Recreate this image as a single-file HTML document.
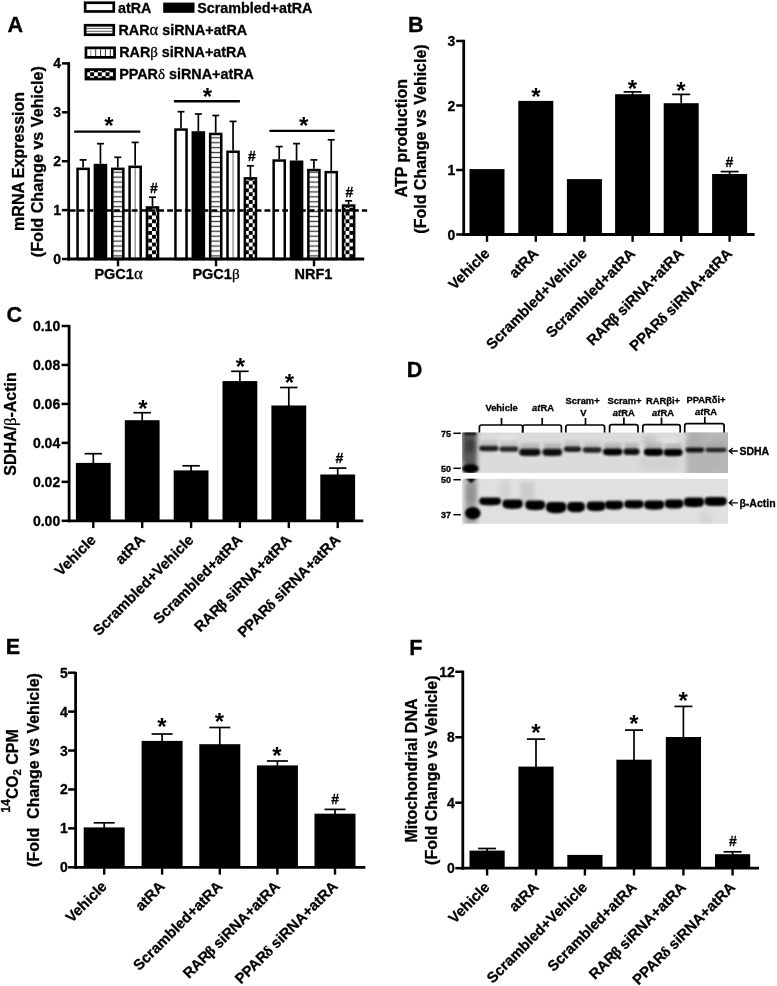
<!DOCTYPE html>
<html lang="en"><head><meta charset="utf-8"><title>Figure</title>
<style>html,body{margin:0;padding:0;background:#fff;}svg{display:block;}</style></head><body>
<svg width="777" height="986" viewBox="0 0 777 986" font-family='"Liberation Sans", sans-serif' fill="#000">
<rect width="777" height="986" fill="#fff"/>
<defs>
<pattern id="hs" y="2.5" width="4.92" height="4.92" patternUnits="userSpaceOnUse"><rect width="4.9" height="4.9" fill="#fff"/><rect y="1.8" width="4.9" height="1.3" fill="#3a3a3a"/></pattern>
<pattern id="vs" width="4.9" height="4.9" patternUnits="userSpaceOnUse" x="0"><rect width="4.9" height="4.9" fill="#fff"/><rect x="1.9" width="1.1" height="4.9" fill="#777"/></pattern>
<pattern id="ck" x="94" y="72.3" width="7.74" height="7.74" patternUnits="userSpaceOnUse"><rect width="7.74" height="7.74" fill="#000"/><rect width="3.87" height="3.87" fill="#fff"/><rect x="3.87" y="3.87" width="3.87" height="3.87" fill="#fff"/></pattern>
<filter id="b1" x="-20%" y="-60%" width="140%" height="220%"><feGaussianBlur stdDeviation="1.1"/></filter>
<filter id="b2" x="-30%" y="-30%" width="160%" height="160%"><feGaussianBlur stdDeviation="2.2"/></filter>
<filter id="b4" x="-30%" y="-60%" width="160%" height="220%"><feGaussianBlur stdDeviation="1.6"/></filter>
<filter id="b3" x="-30%" y="-30%" width="160%" height="160%"><feGaussianBlur stdDeviation="5"/></filter>
</defs>
<g id="panelA">
<line x1="83.1" y1="159.9" x2="83.1" y2="167.6" stroke="#000" stroke-width="1.7" />
<line x1="79.6" y1="159.9" x2="86.6" y2="159.9" stroke="#000" stroke-width="1.7" />
<rect x="77.55" y="168.85" width="11.1" height="90.15" fill="#fff" stroke="#000" stroke-width="2.5"/>
<line x1="100.45" y1="143.7" x2="100.45" y2="163.8" stroke="#000" stroke-width="1.7" />
<line x1="96.95" y1="143.7" x2="103.95" y2="143.7" stroke="#000" stroke-width="1.7" />
<rect x="94.9" y="165.05" width="11.1" height="93.95" fill="#000" stroke="#000" stroke-width="2.5"/>
<line x1="117.8" y1="157.3" x2="117.8" y2="167.6" stroke="#000" stroke-width="1.7" />
<line x1="114.3" y1="157.3" x2="121.3" y2="157.3" stroke="#000" stroke-width="1.7" />
<rect x="112.25" y="168.85" width="11.1" height="90.15" fill="url(#hs)" stroke="#000" stroke-width="2.5"/>
<line x1="135.15" y1="142.4" x2="135.15" y2="165.6" stroke="#000" stroke-width="1.7" />
<line x1="131.65" y1="142.4" x2="138.65" y2="142.4" stroke="#000" stroke-width="1.7" />
<rect x="129.6" y="166.85" width="11.1" height="92.15" fill="#fff" stroke="#000" stroke-width="2.5"/>
<rect x="134.6" y="168.1" width="1.1" height="90.9" fill="#777"/>
<line x1="152.5" y1="197.2" x2="152.5" y2="206.2" stroke="#000" stroke-width="1.7" />
<line x1="149" y1="197.2" x2="156" y2="197.2" stroke="#000" stroke-width="1.7" />
<rect x="146.95" y="207.45" width="11.1" height="51.55" fill="url(#ck)" stroke="#000" stroke-width="2.5"/>
<line x1="181" y1="111.7" x2="181" y2="128.3" stroke="#000" stroke-width="1.7" />
<line x1="177.5" y1="111.7" x2="184.5" y2="111.7" stroke="#000" stroke-width="1.7" />
<rect x="175.45" y="129.55" width="11.1" height="129.45" fill="#fff" stroke="#000" stroke-width="2.5"/>
<line x1="198.35" y1="114" x2="198.35" y2="131.2" stroke="#000" stroke-width="1.7" />
<line x1="194.85" y1="114" x2="201.85" y2="114" stroke="#000" stroke-width="1.7" />
<rect x="192.8" y="132.45" width="11.1" height="126.55" fill="#000" stroke="#000" stroke-width="2.5"/>
<line x1="215.7" y1="115.5" x2="215.7" y2="132.7" stroke="#000" stroke-width="1.7" />
<line x1="212.2" y1="115.5" x2="219.2" y2="115.5" stroke="#000" stroke-width="1.7" />
<rect x="210.15" y="133.95" width="11.1" height="125.05" fill="url(#hs)" stroke="#000" stroke-width="2.5"/>
<line x1="233.05" y1="121.4" x2="233.05" y2="150.5" stroke="#000" stroke-width="1.7" />
<line x1="229.55" y1="121.4" x2="236.55" y2="121.4" stroke="#000" stroke-width="1.7" />
<rect x="227.5" y="151.75" width="11.1" height="107.25" fill="#fff" stroke="#000" stroke-width="2.5"/>
<rect x="232.5" y="153" width="1.1" height="106" fill="#777"/>
<line x1="250.4" y1="165.8" x2="250.4" y2="177.1" stroke="#000" stroke-width="1.7" />
<line x1="246.9" y1="165.8" x2="253.9" y2="165.8" stroke="#000" stroke-width="1.7" />
<rect x="244.85" y="178.35" width="11.1" height="80.65" fill="url(#ck)" stroke="#000" stroke-width="2.5"/>
<line x1="279.2" y1="146.6" x2="279.2" y2="159.3" stroke="#000" stroke-width="1.7" />
<line x1="275.7" y1="146.6" x2="282.7" y2="146.6" stroke="#000" stroke-width="1.7" />
<rect x="273.65" y="160.55" width="11.1" height="98.45" fill="#fff" stroke="#000" stroke-width="2.5"/>
<line x1="296.55" y1="143.6" x2="296.55" y2="160.5" stroke="#000" stroke-width="1.7" />
<line x1="293.05" y1="143.6" x2="300.05" y2="143.6" stroke="#000" stroke-width="1.7" />
<rect x="291" y="161.75" width="11.1" height="97.25" fill="#000" stroke="#000" stroke-width="2.5"/>
<line x1="313.9" y1="159.9" x2="313.9" y2="168.8" stroke="#000" stroke-width="1.7" />
<line x1="310.4" y1="159.9" x2="317.4" y2="159.9" stroke="#000" stroke-width="1.7" />
<rect x="308.35" y="170.05" width="11.1" height="88.95" fill="url(#hs)" stroke="#000" stroke-width="2.5"/>
<line x1="331.25" y1="139.8" x2="331.25" y2="170.9" stroke="#000" stroke-width="1.7" />
<line x1="327.75" y1="139.8" x2="334.75" y2="139.8" stroke="#000" stroke-width="1.7" />
<rect x="325.7" y="172.15" width="11.1" height="86.85" fill="#fff" stroke="#000" stroke-width="2.5"/>
<rect x="330.7" y="173.4" width="1.1" height="85.6" fill="#777"/>
<line x1="348.6" y1="200.8" x2="348.6" y2="204.3" stroke="#000" stroke-width="1.7" />
<line x1="345.1" y1="200.8" x2="352.1" y2="200.8" stroke="#000" stroke-width="1.7" />
<rect x="343.05" y="205.55" width="11.1" height="53.45" fill="url(#ck)" stroke="#000" stroke-width="2.5"/>
<line x1="69.8" y1="210.5" x2="367.2" y2="210.5" stroke="#000" stroke-width="2.5" stroke-dasharray="5.8 3.05"/>
<line x1="68.7" y1="62.15" x2="68.7" y2="260.4" stroke="#000" stroke-width="2.8" />
<line x1="61.9" y1="259" x2="68.7" y2="259" stroke="#000" stroke-width="2.5" />
<text x="61" y="264" font-size="14" font-weight="bold" text-anchor="end" stroke="#000" stroke-width="0.3" >0</text>
<line x1="61.9" y1="210.1" x2="68.7" y2="210.1" stroke="#000" stroke-width="2.5" />
<text x="61" y="215.1" font-size="14" font-weight="bold" text-anchor="end" stroke="#000" stroke-width="0.3" >1</text>
<line x1="61.9" y1="161.2" x2="68.7" y2="161.2" stroke="#000" stroke-width="2.5" />
<text x="61" y="166.2" font-size="14" font-weight="bold" text-anchor="end" stroke="#000" stroke-width="0.3" >2</text>
<line x1="61.9" y1="112.3" x2="68.7" y2="112.3" stroke="#000" stroke-width="2.5" />
<text x="61" y="117.3" font-size="14" font-weight="bold" text-anchor="end" stroke="#000" stroke-width="0.3" >3</text>
<line x1="61.9" y1="63.4" x2="68.7" y2="63.4" stroke="#000" stroke-width="2.5" />
<text x="61" y="68.4" font-size="14" font-weight="bold" text-anchor="end" stroke="#000" stroke-width="0.3" >4</text>
<line x1="67.45" y1="259" x2="364.2" y2="259" stroke="#000" stroke-width="2.8" />
<line x1="118" y1="259" x2="118" y2="266.3" stroke="#000" stroke-width="2.4" />
<line x1="216" y1="259" x2="216" y2="266.3" stroke="#000" stroke-width="2.4" />
<line x1="314" y1="259" x2="314" y2="266.3" stroke="#000" stroke-width="2.4" />
<text x="118.5" y="278.6" font-size="14.5" font-weight="bold" text-anchor="middle" stroke="#000" stroke-width="0.3" >PGC1<tspan font-family='"Liberation Serif", "DejaVu Serif", serif' font-weight="normal" font-size="1.15em">α</tspan></text>
<text x="216" y="278.6" font-size="14.5" font-weight="bold" text-anchor="middle" stroke="#000" stroke-width="0.3" >PGC1<tspan font-family='"Liberation Serif", "DejaVu Serif", serif' font-weight="normal" font-size="1.04em">β</tspan></text>
<text x="313.4" y="278.6" font-size="14.5" font-weight="bold" text-anchor="middle" stroke="#000" stroke-width="0.3" >NRF1</text>
<line x1="74.2" y1="131.6" x2="140.3" y2="131.6" stroke="#000" stroke-width="2.4" />
<line x1="173.9" y1="101.3" x2="239.9" y2="101.3" stroke="#000" stroke-width="2.4" />
<line x1="269.5" y1="130.9" x2="334.7" y2="130.9" stroke="#000" stroke-width="2.4" />
<text x="108.9" y="133.6" font-size="24" font-weight="bold" text-anchor="middle">*</text>
<text x="207.4" y="104.8" font-size="24" font-weight="bold" text-anchor="middle">*</text>
<text x="303.6" y="133.8" font-size="24" font-weight="bold" text-anchor="middle">*</text>
<text x="154" y="192.5" font-size="14" font-weight="bold" text-anchor="middle" stroke="#000" stroke-width="0.3" >#</text>
<text x="251.8" y="161" font-size="14" font-weight="bold" text-anchor="middle" stroke="#000" stroke-width="0.3" >#</text>
<text x="349.5" y="197.3" font-size="14" font-weight="bold" text-anchor="middle" stroke="#000" stroke-width="0.3" >#</text>
<text transform="translate(23.6 161.4) rotate(-90)" font-size="16" font-weight="bold" text-anchor="middle" stroke="#000" stroke-width="0.3" >mRNA Expression</text>
<text transform="translate(42.9 161.7) rotate(-90)" font-size="16.15" font-weight="bold" text-anchor="middle" stroke="#000" stroke-width="0.3" >(Fold Change vs Vehicle)</text>
<rect x="85.15" y="2.75" width="28.6" height="8.7" fill="#fff" stroke="#000" stroke-width="2.7"/>
<text x="118" y="12.7" font-size="14.35" font-weight="bold" text-anchor="start" stroke="#000" stroke-width="0.3" >atRA</text>
<rect x="163.2" y="2.6" width="31.3" height="10.2" fill="#000"/>
<text x="197.2" y="12.7" font-size="14.35" font-weight="bold" text-anchor="start" stroke="#000" stroke-width="0.3" >Scrambled+atRA</text>
<rect x="85.15" y="25.25" width="28.6" height="9.5" fill="#fff" stroke="#000" stroke-width="2.7"/>
<rect x="86" y="27.9" width="27" height="0.9" fill="#444"/><rect x="86" y="30.8" width="27" height="0.9" fill="#444"/>
<text x="118.5" y="34.7" font-size="14.35" font-weight="bold" text-anchor="start" stroke="#000" stroke-width="0.3" >RAR<tspan font-family='"Liberation Serif", "DejaVu Serif", serif' font-weight="normal" font-size="1.15em">α</tspan> siRNA+atRA</text>
<rect x="85.95" y="47.85" width="28.6" height="9.5" fill="#fff" stroke="#000" stroke-width="2.7"/>
<rect x="90.2" y="49" width="1.1" height="7" fill="#999"/>
<rect x="95.1" y="49" width="1.1" height="7" fill="#444"/>
<rect x="100" y="49" width="1.1" height="7" fill="#444"/>
<rect x="104.9" y="49" width="1.1" height="7" fill="#444"/>
<rect x="109.8" y="49" width="1.1" height="7" fill="#444"/>
<text x="119.2" y="57.2" font-size="14.35" font-weight="bold" text-anchor="start" stroke="#000" stroke-width="0.3" >RAR<tspan font-family='"Liberation Serif", "DejaVu Serif", serif' font-weight="normal" font-size="1.04em">β</tspan> siRNA+atRA</text>
<rect x="85.95" y="69.55" width="28.6" height="9.5" fill="url(#ck)" stroke="#000" stroke-width="2.7"/>
<text x="119.2" y="78.5" font-size="14.35" font-weight="bold" text-anchor="start" stroke="#000" stroke-width="0.3" >PPAR<tspan font-family='"Liberation Serif", "DejaVu Serif", serif' font-weight="normal" font-size="1.04em">δ</tspan> siRNA+atRA</text>
<text x="7.5" y="32.2" font-size="21.6" font-weight="bold" text-anchor="start" stroke="#000" stroke-width="0.3" >A</text>
</g>
<g id="panelB">
<rect x="469.5" y="169.1" width="35" height="65.4" fill="#000"/>
<rect x="518.3" y="100.9" width="35" height="133.6" fill="#000"/>
<rect x="566.9" y="179.1" width="35" height="55.4" fill="#000"/>
<line x1="632.6" y1="91.9" x2="632.6" y2="95.2" stroke="#000" stroke-width="1.7" />
<line x1="623.6" y1="91.9" x2="641.6" y2="91.9" stroke="#000" stroke-width="1.7" />
<rect x="615.1" y="94.2" width="35" height="140.3" fill="#000"/>
<line x1="681.2" y1="94.4" x2="681.2" y2="104.2" stroke="#000" stroke-width="1.7" />
<line x1="672.2" y1="94.4" x2="690.2" y2="94.4" stroke="#000" stroke-width="1.7" />
<rect x="663.7" y="103.2" width="35" height="131.3" fill="#000"/>
<line x1="729.6" y1="171.6" x2="729.6" y2="175" stroke="#000" stroke-width="1.7" />
<line x1="720.6" y1="171.6" x2="738.6" y2="171.6" stroke="#000" stroke-width="1.7" />
<rect x="712.1" y="174" width="35" height="60.5" fill="#000"/>
<line x1="463.7" y1="39.75" x2="463.7" y2="235.9" stroke="#000" stroke-width="2.8" />
<line x1="456.2" y1="234.5" x2="463.7" y2="234.5" stroke="#000" stroke-width="2.5" />
<text x="455.2" y="239.5" font-size="14" font-weight="bold" text-anchor="end" stroke="#000" stroke-width="0.3" >0</text>
<line x1="456.2" y1="170" x2="463.7" y2="170" stroke="#000" stroke-width="2.5" />
<text x="455.2" y="175" font-size="14" font-weight="bold" text-anchor="end" stroke="#000" stroke-width="0.3" >1</text>
<line x1="456.2" y1="105.5" x2="463.7" y2="105.5" stroke="#000" stroke-width="2.5" />
<text x="455.2" y="110.5" font-size="14" font-weight="bold" text-anchor="end" stroke="#000" stroke-width="0.3" >2</text>
<line x1="456.2" y1="41" x2="463.7" y2="41" stroke="#000" stroke-width="2.5" />
<text x="455.2" y="46" font-size="14" font-weight="bold" text-anchor="end" stroke="#000" stroke-width="0.3" >3</text>
<line x1="462.45" y1="234.5" x2="754.6" y2="234.5" stroke="#000" stroke-width="2.8" />
<line x1="487" y1="234.5" x2="487" y2="241.8" stroke="#000" stroke-width="2.4" />
<line x1="535.8" y1="234.5" x2="535.8" y2="241.8" stroke="#000" stroke-width="2.4" />
<line x1="584.4" y1="234.5" x2="584.4" y2="241.8" stroke="#000" stroke-width="2.4" />
<line x1="632.6" y1="234.5" x2="632.6" y2="241.8" stroke="#000" stroke-width="2.4" />
<line x1="681.2" y1="234.5" x2="681.2" y2="241.8" stroke="#000" stroke-width="2.4" />
<line x1="729.6" y1="234.5" x2="729.6" y2="241.8" stroke="#000" stroke-width="2.4" />
<text transform="translate(490.5 254.5) rotate(-45)" font-size="14.8" font-weight="bold" text-anchor="end" stroke="#000" stroke-width="0.3" >Vehicle</text>
<text transform="translate(539.3 254.5) rotate(-45)" font-size="14.8" font-weight="bold" text-anchor="end" stroke="#000" stroke-width="0.3" >atRA</text>
<text transform="translate(587.9 254.5) rotate(-45)" font-size="14.8" font-weight="bold" text-anchor="end" stroke="#000" stroke-width="0.3" >Scrambled+Vehicle</text>
<text transform="translate(636.1 254.5) rotate(-45)" font-size="14.8" font-weight="bold" text-anchor="end" stroke="#000" stroke-width="0.3" >Scrambled+atRA</text>
<text transform="translate(684.7 254.5) rotate(-45)" font-size="14.8" font-weight="bold" text-anchor="end" stroke="#000" stroke-width="0.3" >RAR<tspan font-family='"Liberation Serif", "DejaVu Serif", serif' font-weight="bold" dx="-0.8">β</tspan><tspan dx="-0.6"> siRNA+atRA</tspan></text>
<text transform="translate(733.1 254.5) rotate(-45)" font-size="14.8" font-weight="bold" text-anchor="end" stroke="#000" stroke-width="0.3" >PPAR<tspan font-family='"Liberation Serif", "DejaVu Serif", serif' font-weight="bold" dx="-0.8">δ</tspan><tspan dx="-0.6"> siRNA+atRA</tspan></text>
<text x="535.9" y="105.1" font-size="24" font-weight="bold" text-anchor="middle">*</text>
<text x="632.4" y="96.7" font-size="24" font-weight="bold" text-anchor="middle">*</text>
<text x="681" y="98.5" font-size="24" font-weight="bold" text-anchor="middle">*</text>
<text x="729.4" y="167.2" font-size="14" font-weight="bold" text-anchor="middle" stroke="#000" stroke-width="0.3" >#</text>
<text transform="translate(406.9 138.2) rotate(-90)" font-size="16" font-weight="bold" text-anchor="middle" stroke="#000" stroke-width="0.3" >ATP production</text>
<text transform="translate(426 139) rotate(-90)" font-size="16" font-weight="bold" text-anchor="middle" stroke="#000" stroke-width="0.3" >(Fold Change vs Vehicle)</text>
<text x="408" y="32" font-size="21.6" font-weight="bold" text-anchor="start" stroke="#000" stroke-width="0.3" >B</text>
</g>
<g id="panelC">
<line x1="93.3" y1="453.7" x2="93.3" y2="463.9" stroke="#000" stroke-width="1.7" />
<line x1="84.55" y1="453.7" x2="102.05" y2="453.7" stroke="#000" stroke-width="1.7" />
<rect x="75.9" y="462.9" width="34.8" height="57.9" fill="#000"/>
<line x1="142.2" y1="412.7" x2="142.2" y2="421.2" stroke="#000" stroke-width="1.7" />
<line x1="133.45" y1="412.7" x2="150.95" y2="412.7" stroke="#000" stroke-width="1.7" />
<rect x="124.8" y="420.2" width="34.8" height="100.6" fill="#000"/>
<line x1="191.1" y1="465.8" x2="191.1" y2="471.4" stroke="#000" stroke-width="1.7" />
<line x1="182.35" y1="465.8" x2="199.85" y2="465.8" stroke="#000" stroke-width="1.7" />
<rect x="173.7" y="470.4" width="34.8" height="50.4" fill="#000"/>
<line x1="239.9" y1="371.3" x2="239.9" y2="382.1" stroke="#000" stroke-width="1.7" />
<line x1="231.15" y1="371.3" x2="248.65" y2="371.3" stroke="#000" stroke-width="1.7" />
<rect x="222.5" y="381.1" width="34.8" height="139.7" fill="#000"/>
<line x1="288.8" y1="387.5" x2="288.8" y2="406.5" stroke="#000" stroke-width="1.7" />
<line x1="280.05" y1="387.5" x2="297.55" y2="387.5" stroke="#000" stroke-width="1.7" />
<rect x="271.4" y="405.5" width="34.8" height="115.3" fill="#000"/>
<line x1="337.7" y1="468.1" x2="337.7" y2="475.5" stroke="#000" stroke-width="1.7" />
<line x1="328.95" y1="468.1" x2="346.45" y2="468.1" stroke="#000" stroke-width="1.7" />
<rect x="320.3" y="474.5" width="34.8" height="46.3" fill="#000"/>
<line x1="69.1" y1="324.85" x2="69.1" y2="522.2" stroke="#000" stroke-width="2.8" />
<line x1="61.6" y1="520.8" x2="69.1" y2="520.8" stroke="#000" stroke-width="2.5" />
<text x="60.2" y="525.8" font-size="14" font-weight="bold" text-anchor="end" stroke="#000" stroke-width="0.3" >0.00</text>
<line x1="61.6" y1="481.84" x2="69.1" y2="481.84" stroke="#000" stroke-width="2.5" />
<text x="60.2" y="486.84" font-size="14" font-weight="bold" text-anchor="end" stroke="#000" stroke-width="0.3" >0.02</text>
<line x1="61.6" y1="442.88" x2="69.1" y2="442.88" stroke="#000" stroke-width="2.5" />
<text x="60.2" y="447.88" font-size="14" font-weight="bold" text-anchor="end" stroke="#000" stroke-width="0.3" >0.04</text>
<line x1="61.6" y1="403.92" x2="69.1" y2="403.92" stroke="#000" stroke-width="2.5" />
<text x="60.2" y="408.92" font-size="14" font-weight="bold" text-anchor="end" stroke="#000" stroke-width="0.3" >0.06</text>
<line x1="61.6" y1="364.96" x2="69.1" y2="364.96" stroke="#000" stroke-width="2.5" />
<text x="60.2" y="369.96" font-size="14" font-weight="bold" text-anchor="end" stroke="#000" stroke-width="0.3" >0.08</text>
<line x1="61.6" y1="326" x2="69.1" y2="326" stroke="#000" stroke-width="2.5" />
<text x="60.2" y="331" font-size="14" font-weight="bold" text-anchor="end" stroke="#000" stroke-width="0.3" >0.10</text>
<line x1="67.85" y1="520.8" x2="363.3" y2="520.8" stroke="#000" stroke-width="2.8" />
<line x1="93.3" y1="520.8" x2="93.3" y2="528.1" stroke="#000" stroke-width="2.4" />
<line x1="142.2" y1="520.8" x2="142.2" y2="528.1" stroke="#000" stroke-width="2.4" />
<line x1="191.1" y1="520.8" x2="191.1" y2="528.1" stroke="#000" stroke-width="2.4" />
<line x1="239.9" y1="520.8" x2="239.9" y2="528.1" stroke="#000" stroke-width="2.4" />
<line x1="288.8" y1="520.8" x2="288.8" y2="528.1" stroke="#000" stroke-width="2.4" />
<line x1="337.7" y1="520.8" x2="337.7" y2="528.1" stroke="#000" stroke-width="2.4" />
<text transform="translate(96.8 540.8) rotate(-45)" font-size="14.8" font-weight="bold" text-anchor="end" stroke="#000" stroke-width="0.3" >Vehicle</text>
<text transform="translate(145.7 540.8) rotate(-45)" font-size="14.8" font-weight="bold" text-anchor="end" stroke="#000" stroke-width="0.3" >atRA</text>
<text transform="translate(194.6 540.8) rotate(-45)" font-size="14.8" font-weight="bold" text-anchor="end" stroke="#000" stroke-width="0.3" >Scrambled+Vehicle</text>
<text transform="translate(243.4 540.8) rotate(-45)" font-size="14.8" font-weight="bold" text-anchor="end" stroke="#000" stroke-width="0.3" >Scrambled+atRA</text>
<text transform="translate(292.3 540.8) rotate(-45)" font-size="14.8" font-weight="bold" text-anchor="end" stroke="#000" stroke-width="0.3" >RAR<tspan font-family='"Liberation Serif", "DejaVu Serif", serif' font-weight="bold" dx="-0.8">β</tspan><tspan dx="-0.6"> siRNA+atRA</tspan></text>
<text transform="translate(341.2 540.8) rotate(-45)" font-size="14.8" font-weight="bold" text-anchor="end" stroke="#000" stroke-width="0.3" >PPAR<tspan font-family='"Liberation Serif", "DejaVu Serif", serif' font-weight="bold" dx="-0.8">δ</tspan><tspan dx="-0.6"> siRNA+atRA</tspan></text>
<text x="143" y="417.1" font-size="24" font-weight="bold" text-anchor="middle">*</text>
<text x="240.5" y="375.1" font-size="24" font-weight="bold" text-anchor="middle">*</text>
<text x="289.3" y="390.5" font-size="24" font-weight="bold" text-anchor="middle">*</text>
<text x="339.5" y="462.8" font-size="14" font-weight="bold" text-anchor="middle" stroke="#000" stroke-width="0.3" >#</text>
<text transform="translate(16 424) rotate(-90)" font-size="16" font-weight="bold" text-anchor="middle" stroke="#000" stroke-width="0.3" >SDHA/<tspan font-family='"Liberation Serif", "DejaVu Serif", serif' font-weight="normal" font-size="1.04em">β</tspan>-Actin</text>
<text x="6.5" y="322" font-size="21.6" font-weight="bold" text-anchor="start" stroke="#000" stroke-width="0.3" >C</text>
</g>
<g id="panelE">
<line x1="104.2" y1="822.8" x2="104.2" y2="828.4" stroke="#000" stroke-width="1.7" />
<line x1="93.7" y1="822.8" x2="114.7" y2="822.8" stroke="#000" stroke-width="1.7" />
<rect x="83.7" y="827.4" width="41" height="39.9" fill="#000"/>
<line x1="162.1" y1="734" x2="162.1" y2="741.9" stroke="#000" stroke-width="1.7" />
<line x1="151.6" y1="734" x2="172.6" y2="734" stroke="#000" stroke-width="1.7" />
<rect x="141.6" y="740.9" width="41" height="126.4" fill="#000"/>
<line x1="219.8" y1="727.5" x2="219.8" y2="745.2" stroke="#000" stroke-width="1.7" />
<line x1="209.3" y1="727.5" x2="230.3" y2="727.5" stroke="#000" stroke-width="1.7" />
<rect x="199.3" y="744.2" width="41" height="123.1" fill="#000"/>
<line x1="277.4" y1="761" x2="277.4" y2="766.4" stroke="#000" stroke-width="1.7" />
<line x1="266.9" y1="761" x2="287.9" y2="761" stroke="#000" stroke-width="1.7" />
<rect x="256.9" y="765.4" width="41" height="101.9" fill="#000"/>
<line x1="335" y1="809.4" x2="335" y2="814.7" stroke="#000" stroke-width="1.7" />
<line x1="324.5" y1="809.4" x2="345.5" y2="809.4" stroke="#000" stroke-width="1.7" />
<rect x="314.5" y="813.7" width="41" height="53.6" fill="#000"/>
<line x1="75.6" y1="671.85" x2="75.6" y2="868.7" stroke="#000" stroke-width="2.8" />
<line x1="68.1" y1="867.3" x2="75.6" y2="867.3" stroke="#000" stroke-width="2.5" />
<text x="67.9" y="872.3" font-size="14" font-weight="bold" text-anchor="end" stroke="#000" stroke-width="0.3" >0</text>
<line x1="68.1" y1="828.38" x2="75.6" y2="828.38" stroke="#000" stroke-width="2.5" />
<text x="67.9" y="833.38" font-size="14" font-weight="bold" text-anchor="end" stroke="#000" stroke-width="0.3" >1</text>
<line x1="68.1" y1="789.46" x2="75.6" y2="789.46" stroke="#000" stroke-width="2.5" />
<text x="67.9" y="794.46" font-size="14" font-weight="bold" text-anchor="end" stroke="#000" stroke-width="0.3" >2</text>
<line x1="68.1" y1="750.54" x2="75.6" y2="750.54" stroke="#000" stroke-width="2.5" />
<text x="67.9" y="755.54" font-size="14" font-weight="bold" text-anchor="end" stroke="#000" stroke-width="0.3" >3</text>
<line x1="68.1" y1="711.62" x2="75.6" y2="711.62" stroke="#000" stroke-width="2.5" />
<text x="67.9" y="716.62" font-size="14" font-weight="bold" text-anchor="end" stroke="#000" stroke-width="0.3" >4</text>
<line x1="68.1" y1="672.7" x2="75.6" y2="672.7" stroke="#000" stroke-width="2.5" />
<text x="67.9" y="677.7" font-size="14" font-weight="bold" text-anchor="end" stroke="#000" stroke-width="0.3" >5</text>
<line x1="74.35" y1="867.3" x2="365.3" y2="867.3" stroke="#000" stroke-width="2.8" />
<line x1="104.2" y1="867.3" x2="104.2" y2="874.6" stroke="#000" stroke-width="2.4" />
<line x1="162.1" y1="867.3" x2="162.1" y2="874.6" stroke="#000" stroke-width="2.4" />
<line x1="219.8" y1="867.3" x2="219.8" y2="874.6" stroke="#000" stroke-width="2.4" />
<line x1="277.4" y1="867.3" x2="277.4" y2="874.6" stroke="#000" stroke-width="2.4" />
<line x1="335" y1="867.3" x2="335" y2="874.6" stroke="#000" stroke-width="2.4" />
<text transform="translate(107.7 887.3) rotate(-45)" font-size="14.8" font-weight="bold" text-anchor="end" stroke="#000" stroke-width="0.3" >Vehicle</text>
<text transform="translate(165.6 887.3) rotate(-45)" font-size="14.8" font-weight="bold" text-anchor="end" stroke="#000" stroke-width="0.3" >atRA</text>
<text transform="translate(223.3 887.3) rotate(-45)" font-size="14.8" font-weight="bold" text-anchor="end" stroke="#000" stroke-width="0.3" >Scrambled+atRA</text>
<text transform="translate(280.9 887.3) rotate(-45)" font-size="14.8" font-weight="bold" text-anchor="end" stroke="#000" stroke-width="0.3" >RAR<tspan font-family='"Liberation Serif", "DejaVu Serif", serif' font-weight="bold" dx="-0.8">β</tspan><tspan dx="-0.6"> siRNA+atRA</tspan></text>
<text transform="translate(338.5 887.3) rotate(-45)" font-size="14.8" font-weight="bold" text-anchor="end" stroke="#000" stroke-width="0.3" >PPAR<tspan font-family='"Liberation Serif", "DejaVu Serif", serif' font-weight="bold" dx="-0.8">δ</tspan><tspan dx="-0.6"> siRNA+atRA</tspan></text>
<text x="161.9" y="735.2" font-size="24" font-weight="bold" text-anchor="middle">*</text>
<text x="219.5" y="729.8" font-size="24" font-weight="bold" text-anchor="middle">*</text>
<text x="277" y="764" font-size="24" font-weight="bold" text-anchor="middle">*</text>
<text x="335.2" y="804" font-size="14" font-weight="bold" text-anchor="middle" stroke="#000" stroke-width="0.3" >#</text>
<text transform="translate(18.3 771) rotate(-90)" font-size="16" font-weight="bold" text-anchor="middle" stroke="#000" stroke-width="0.3" ><tspan font-size="12.4" dy="-8.6">14</tspan><tspan font-size="15.6" dy="8.6">CO</tspan><tspan font-size="11.5" dy="2.5">2</tspan><tspan font-size="16" dy="-2.5"> CPM</tspan></text>
<text transform="translate(38.8 770) rotate(-90)" font-size="16" font-weight="bold" text-anchor="middle" stroke="#000" stroke-width="0.3" >(Fold&#160;&#160;Change vs Vehicle)</text>
<text x="5.8" y="654.1" font-size="21.6" font-weight="bold" text-anchor="start" stroke="#000" stroke-width="0.3" >E</text>
</g>
<g id="panelF">
<line x1="487.1" y1="848.5" x2="487.1" y2="851.6" stroke="#000" stroke-width="1.7" />
<line x1="478.1" y1="848.5" x2="496.1" y2="848.5" stroke="#000" stroke-width="1.7" />
<rect x="469.5" y="850.6" width="35.2" height="17.6" fill="#000"/>
<line x1="536" y1="739.1" x2="536" y2="767.6" stroke="#000" stroke-width="1.7" />
<line x1="527" y1="739.1" x2="545" y2="739.1" stroke="#000" stroke-width="1.7" />
<rect x="518.4" y="766.6" width="35.2" height="101.6" fill="#000"/>
<rect x="567.3" y="854.9" width="35.2" height="13.3" fill="#000"/>
<line x1="634" y1="730.1" x2="634" y2="760.7" stroke="#000" stroke-width="1.7" />
<line x1="625" y1="730.1" x2="643" y2="730.1" stroke="#000" stroke-width="1.7" />
<rect x="616.4" y="759.7" width="35.2" height="108.5" fill="#000"/>
<line x1="683.4" y1="706.4" x2="683.4" y2="738" stroke="#000" stroke-width="1.7" />
<line x1="674.4" y1="706.4" x2="692.4" y2="706.4" stroke="#000" stroke-width="1.7" />
<rect x="665.8" y="737" width="35.2" height="131.2" fill="#000"/>
<line x1="732.6" y1="851.8" x2="732.6" y2="855.2" stroke="#000" stroke-width="1.7" />
<line x1="723.6" y1="851.8" x2="741.6" y2="851.8" stroke="#000" stroke-width="1.7" />
<rect x="715" y="854.2" width="35.2" height="14" fill="#000"/>
<line x1="462.8" y1="670.65" x2="462.8" y2="869.6" stroke="#000" stroke-width="2.8" />
<line x1="455.3" y1="868.2" x2="462.8" y2="868.2" stroke="#000" stroke-width="2.5" />
<text x="454.8" y="873.2" font-size="14" font-weight="bold" text-anchor="end" stroke="#000" stroke-width="0.3" >0</text>
<line x1="455.3" y1="802.72" x2="462.8" y2="802.72" stroke="#000" stroke-width="2.5" />
<text x="454.8" y="807.72" font-size="14" font-weight="bold" text-anchor="end" stroke="#000" stroke-width="0.3" >4</text>
<line x1="455.3" y1="737.24" x2="462.8" y2="737.24" stroke="#000" stroke-width="2.5" />
<text x="454.8" y="742.24" font-size="14" font-weight="bold" text-anchor="end" stroke="#000" stroke-width="0.3" >8</text>
<line x1="455.3" y1="671.76" x2="462.8" y2="671.76" stroke="#000" stroke-width="2.5" />
<text x="454.8" y="676.76" font-size="14" font-weight="bold" text-anchor="end" stroke="#000" stroke-width="0.3" >12</text>
<line x1="461.55" y1="868.2" x2="759" y2="868.2" stroke="#000" stroke-width="2.8" />
<line x1="487.1" y1="868.2" x2="487.1" y2="875.5" stroke="#000" stroke-width="2.4" />
<line x1="536" y1="868.2" x2="536" y2="875.5" stroke="#000" stroke-width="2.4" />
<line x1="584.9" y1="868.2" x2="584.9" y2="875.5" stroke="#000" stroke-width="2.4" />
<line x1="634" y1="868.2" x2="634" y2="875.5" stroke="#000" stroke-width="2.4" />
<line x1="683.4" y1="868.2" x2="683.4" y2="875.5" stroke="#000" stroke-width="2.4" />
<line x1="732.6" y1="868.2" x2="732.6" y2="875.5" stroke="#000" stroke-width="2.4" />
<text transform="translate(490.6 888.2) rotate(-45)" font-size="14.8" font-weight="bold" text-anchor="end" stroke="#000" stroke-width="0.3" >Vehicle</text>
<text transform="translate(539.5 888.2) rotate(-45)" font-size="14.8" font-weight="bold" text-anchor="end" stroke="#000" stroke-width="0.3" >atRA</text>
<text transform="translate(588.4 888.2) rotate(-45)" font-size="14.8" font-weight="bold" text-anchor="end" stroke="#000" stroke-width="0.3" >Scrambled+Vehicle</text>
<text transform="translate(637.5 888.2) rotate(-45)" font-size="14.8" font-weight="bold" text-anchor="end" stroke="#000" stroke-width="0.3" >Scrambled+atRA</text>
<text transform="translate(686.9 888.2) rotate(-45)" font-size="14.8" font-weight="bold" text-anchor="end" stroke="#000" stroke-width="0.3" >RAR<tspan font-family='"Liberation Serif", "DejaVu Serif", serif' font-weight="bold" dx="-0.8">β</tspan><tspan dx="-0.6"> siRNA+atRA</tspan></text>
<text transform="translate(736.1 888.2) rotate(-45)" font-size="14.8" font-weight="bold" text-anchor="end" stroke="#000" stroke-width="0.3" >PPAR<tspan font-family='"Liberation Serif", "DejaVu Serif", serif' font-weight="bold" dx="-0.8">δ</tspan><tspan dx="-0.6"> siRNA+atRA</tspan></text>
<text x="535.8" y="740.9" font-size="24" font-weight="bold" text-anchor="middle">*</text>
<text x="633.8" y="732.3" font-size="24" font-weight="bold" text-anchor="middle">*</text>
<text x="683.2" y="709.4" font-size="24" font-weight="bold" text-anchor="middle">*</text>
<text x="733" y="846" font-size="14" font-weight="bold" text-anchor="middle" stroke="#000" stroke-width="0.3" >#</text>
<text transform="translate(416.5 770.5) rotate(-90)" font-size="16" font-weight="bold" text-anchor="middle" stroke="#000" stroke-width="0.3" >Mitochondrial DNA</text>
<text transform="translate(437.1 770.2) rotate(-90)" font-size="16" font-weight="bold" text-anchor="middle" stroke="#000" stroke-width="0.3" >(Fold Change vs Vehicle)</text>
<text x="409.3" y="654.7" font-size="21.6" font-weight="bold" text-anchor="start" stroke="#000" stroke-width="0.3" >F</text>
</g>
<g id="panelD">
<text x="406.8" y="376.9" font-size="21.6" font-weight="bold" text-anchor="start" stroke="#000" stroke-width="0.3" >D</text>
<clipPath id="cs"><rect x="462.0" y="432.5" width="266.0" height="40.4"/></clipPath>
<clipPath id="ca"><rect x="462.0" y="478.8" width="266.0" height="44.9"/></clipPath>
<rect x="462.0" y="432.5" width="266.0" height="40.4" fill="#dbdbdb"/>
<g clip-path="url(#cs)">
<rect x="686" y="428" width="46" height="50" fill="#b7b7b7" opacity="1" filter="url(#b2)"/>
<rect x="690" y="433" width="14" height="10" fill="#aaaaaa" opacity="0.8" filter="url(#b2)"/>
<rect x="712" y="436" width="12" height="9" fill="#b0b0b0" opacity="0.8" filter="url(#b2)"/>
<rect x="692" y="458" width="30" height="10" fill="#b2b2b2" opacity="0.7" filter="url(#b2)"/>
<rect x="642" y="436" width="14" height="8" fill="#c6c6c6" opacity="1" filter="url(#b2)"/>
<rect x="664" y="438" width="12" height="8" fill="#e6e6e6" opacity="0.8" filter="url(#b2)"/>
<rect x="640" y="458" width="40" height="12" fill="#cfcfcf" opacity="0.8" filter="url(#b2)"/>
<rect x="500" y="436" width="14" height="8" fill="#e4e4e4" opacity="0.8" filter="url(#b2)"/>
<rect x="463.5" y="428" width="13.5" height="42" fill="#585858" opacity="1" filter="url(#b2)"/>
<rect x="466" y="440" width="8" height="12" fill="#333" opacity="0.7" filter="url(#b2)"/>
<rect x="464" y="431.5" width="12" height="3.5" fill="#111" opacity="0.9" filter="url(#b1)"/>
<rect x="462" y="432" width="4" height="30" fill="#333" opacity="0.6" filter="url(#b2)"/>
<ellipse cx="470.4" cy="468.8" rx="8.3" ry="4.6" fill="#000" filter="url(#b1)"/>
<rect x="480" y="440.3" width="17.6" height="6.5" fill="#9a9a9a" opacity="0.35" filter="url(#b4)"/>
<rect x="500.4" y="440.9" width="17" height="6.5" fill="#9a9a9a" opacity="0.35" filter="url(#b4)"/>
<rect x="520.2" y="443.3" width="19.4" height="6.5" fill="#9a9a9a" opacity="0.55" filter="url(#b4)"/>
<rect x="543.4" y="443.3" width="17.8" height="6.5" fill="#9a9a9a" opacity="0.55" filter="url(#b4)"/>
<rect x="564.8" y="440.9" width="15.4" height="6.5" fill="#9a9a9a" opacity="0.35" filter="url(#b4)"/>
<rect x="583.8" y="441.7" width="16.8" height="6.5" fill="#9a9a9a" opacity="0.35" filter="url(#b4)"/>
<rect x="604" y="443" width="17.4" height="6.5" fill="#9a9a9a" opacity="0.55" filter="url(#b4)"/>
<rect x="624.4" y="443" width="14.2" height="6.5" fill="#9a9a9a" opacity="0.55" filter="url(#b4)"/>
<rect x="644.8" y="442.9" width="17.4" height="6.5" fill="#9a9a9a" opacity="0.55" filter="url(#b4)"/>
<rect x="664.6" y="443.5" width="17" height="6.5" fill="#9a9a9a" opacity="0.55" filter="url(#b4)"/>
<rect x="686.4" y="441.9" width="16.8" height="6.5" fill="#9a9a9a" opacity="0.35" filter="url(#b4)"/>
<rect x="706.4" y="442.3" width="19.2" height="6.5" fill="#9a9a9a" opacity="0.35" filter="url(#b4)"/>
<path d="M479 448.3 Q479 445.8 481.5 445.8 L496.1 445.8 Q498.6 445.8 498.6 448.3 Q498.6 450.8 496.1 451.04 Q488.8 451.4 481.5 451.04 Q479 450.8 479 448.3 Z" fill="#1e1e1e" filter="url(#b1)"/>
<path d="M499.4 448.9 Q499.4 446.4 501.9 446.4 L515.9 446.4 Q518.4 446.4 518.4 448.9 Q518.4 451.4 515.9 451.64 Q508.9 452 501.9 451.64 Q499.4 451.4 499.4 448.9 Z" fill="#262626" filter="url(#b1)"/>
<path d="M519.2 452.2 Q519.2 448.8 522.6 448.8 L537.2 448.8 Q540.6 448.8 540.6 452.2 Q540.6 455.6 537.2 455.84 Q529.9 456.2 522.6 455.84 Q519.2 455.6 519.2 452.2 Z" fill="#0a0a0a" filter="url(#b1)"/>
<path d="M542.4 452.2 Q542.4 448.8 545.8 448.8 L558.8 448.8 Q562.2 448.8 562.2 452.2 Q562.2 455.6 558.8 455.84 Q552.3 456.2 545.8 455.84 Q542.4 455.6 542.4 452.2 Z" fill="#0a0a0a" filter="url(#b1)"/>
<path d="M563.8 449 Q563.8 446.4 566.4 446.4 L578.6 446.4 Q581.2 446.4 581.2 449 Q581.2 451.6 578.6 451.84 Q572.5 452.2 566.4 451.84 Q563.8 451.6 563.8 449 Z" fill="#1a1a1a" filter="url(#b1)"/>
<path d="M582.8 449.8 Q582.8 447.2 585.4 447.2 L599 447.2 Q601.6 447.2 601.6 449.8 Q601.6 452.4 599 452.64 Q592.2 453 585.4 452.64 Q582.8 452.4 582.8 449.8 Z" fill="#202020" filter="url(#b1)"/>
<path d="M603 451.8 Q603 448.5 606.3 448.5 L619.1 448.5 Q622.4 448.5 622.4 451.8 Q622.4 455.1 619.1 455.34 Q612.7 455.7 606.3 455.34 Q603 455.1 603 451.8 Z" fill="#060606" filter="url(#b1)"/>
<path d="M623.4 451.6 Q623.4 448.5 626.5 448.5 L636.5 448.5 Q639.6 448.5 639.6 451.6 Q639.6 454.7 636.5 454.94 Q631.5 455.3 626.5 454.94 Q623.4 454.7 623.4 451.6 Z" fill="#0a0a0a" filter="url(#b1)"/>
<path d="M643.8 452 Q643.8 448.4 647.4 448.4 L659.6 448.4 Q663.2 448.4 663.2 452 Q663.2 455.6 659.6 455.84 Q653.5 456.2 647.4 455.84 Q643.8 455.6 643.8 452 Z" fill="#040404" filter="url(#b1)"/>
<path d="M663.6 452.4 Q663.6 449 667 449 L679.2 449 Q682.6 449 682.6 452.4 Q682.6 455.8 679.2 456.04 Q673.1 456.4 667 456.04 Q663.6 455.8 663.6 452.4 Z" fill="#060606" filter="url(#b1)"/>
<path d="M685.4 449.8 Q685.4 447.4 687.8 447.4 L701.8 447.4 Q704.2 447.4 704.2 449.8 Q704.2 452.2 701.8 452.44 Q694.8 452.8 687.8 452.44 Q685.4 452.2 685.4 449.8 Z" fill="#101010" filter="url(#b1)"/>
<path d="M705.4 449.8 Q705.4 447.8 707.4 447.8 L724.6 447.8 Q726.6 447.8 726.6 449.8 Q726.6 451.8 724.6 452.04 Q716 452.4 707.4 452.04 Q705.4 451.8 705.4 449.8 Z" fill="#242424" filter="url(#b1)"/>
</g>
<rect x="462.0" y="478.8" width="266.0" height="44.9" fill="#e0e0e0"/>
<g clip-path="url(#ca)">
<rect x="465" y="476" width="12" height="48" fill="#a0a0a0" opacity="1" filter="url(#b2)"/>
<rect x="467" y="486" width="8" height="16" fill="#8a8a8a" opacity="0.7" filter="url(#b2)"/>
<rect x="520" y="482" width="14" height="22" fill="#cbcbcb" opacity="1" filter="url(#b2)"/>
<rect x="500" y="480" width="10" height="18" fill="#d2d2d2" opacity="1" filter="url(#b2)"/>
<rect x="700" y="512" width="12" height="12" fill="#d4d4d4" opacity="1" filter="url(#b2)"/>
<path d="M465.2 477.5 H476.8 L471.2 483.2 Z" fill="#000" filter="url(#b1)"/>
<ellipse cx="472.8" cy="513.2" rx="7.8" ry="6.2" fill="#000" filter="url(#b1)"/>
<path d="M479.2 501 Q479.2 497.56 482.64 497.56 L497.56 497.56 Q501 497.56 501 501 Q501 504.44 497.56 505.08 Q490.1 506.04 482.64 505.08 Q479.2 504.44 479.2 501 Z" fill="#000" filter="url(#b1)"/>
<path d="M502.4 503.8 Q502.4 499.62 506.58 499.62 L518.62 499.62 Q522.8 499.62 522.8 503.8 Q522.8 507.99 518.62 508.62 Q512.6 509.59 506.58 508.62 Q502.4 507.99 502.4 503.8 Z" fill="#000" filter="url(#b1)"/>
<path d="M525.2 504.8 Q525.2 500.43 529.57 500.43 L540.83 500.43 Q545.2 500.43 545.2 504.8 Q545.2 509.17 540.83 509.81 Q535.2 510.77 529.57 509.81 Q525.2 509.17 525.2 504.8 Z" fill="#000" filter="url(#b1)"/>
<path d="M545.8 507 Q545.8 502.07 550.73 502.07 L561.47 502.07 Q566.4 502.07 566.4 507 Q566.4 511.93 561.47 512.73 Q556.1 513.93 550.73 512.73 Q545.8 511.93 545.8 507 Z" fill="#000" filter="url(#b1)"/>
<path d="M567 506.6 Q567 501.95 571.65 501.95 L580.35 501.95 Q585 501.95 585 506.6 Q585 511.25 580.35 511.89 Q576 512.85 571.65 511.89 Q567 511.25 567 506.6 Z" fill="#000" filter="url(#b1)"/>
<path d="M586.6 505.8 Q586.6 501.43 590.97 501.43 L601.23 501.43 Q605.6 501.43 605.6 505.8 Q605.6 510.17 601.23 510.73 Q596.1 511.57 590.97 510.73 Q586.6 510.17 586.6 505.8 Z" fill="#000" filter="url(#b1)"/>
<path d="M604.8 504.8 Q604.8 500.8 608.8 500.8 L619.4 500.8 Q623.4 500.8 623.4 504.8 Q623.4 508.8 619.4 509.28 Q614.1 510 608.8 509.28 Q604.8 508.8 604.8 504.8 Z" fill="#000" filter="url(#b1)"/>
<path d="M624.2 504 Q624.2 500.19 628.01 500.19 L639.99 500.19 Q643.8 500.19 643.8 504 Q643.8 507.81 639.99 508.21 Q634 508.81 628.01 508.21 Q624.2 507.81 624.2 504 Z" fill="#000" filter="url(#b1)"/>
<path d="M644 504.6 Q644 500.42 648.18 500.42 L660.22 500.42 Q664.4 500.42 664.4 504.6 Q664.4 508.79 660.22 509.27 Q654.2 509.99 648.18 509.27 Q644 508.79 644 504.6 Z" fill="#000" filter="url(#b1)"/>
<path d="M664.6 503.6 Q664.6 499.42 668.78 499.42 L679.42 499.42 Q683.6 499.42 683.6 503.6 Q683.6 507.79 679.42 508.19 Q674.1 508.79 668.78 508.19 Q664.6 507.79 664.6 503.6 Z" fill="#000" filter="url(#b1)"/>
<path d="M683.8 502 Q683.8 497.54 688.26 497.54 L699.74 497.54 Q704.2 497.54 704.2 502 Q704.2 506.46 699.74 506.86 Q694 507.46 688.26 506.86 Q683.8 506.46 683.8 502 Z" fill="#000" filter="url(#b1)"/>
<path d="M704.4 501.2 Q704.4 497.01 708.58 497.01 L722.62 497.01 Q726.8 497.01 726.8 501.2 Q726.8 505.38 722.62 505.7 Q715.6 506.19 708.58 505.7 Q704.4 505.38 704.4 501.2 Z" fill="#000" filter="url(#b1)"/>
</g>
<text x="441" y="436.6" font-size="9.0" font-weight="bold" text-anchor="start" stroke="#000" stroke-width="0.3" >75</text>
<line x1="453.4" y1="433.3" x2="460.8" y2="433.3" stroke="#000" stroke-width="1.5" />
<text x="441" y="471.6" font-size="9.0" font-weight="bold" text-anchor="start" stroke="#000" stroke-width="0.3" >50</text>
<line x1="453.4" y1="468.3" x2="460.8" y2="468.3" stroke="#000" stroke-width="1.5" />
<text x="441" y="483" font-size="9.0" font-weight="bold" text-anchor="start" stroke="#000" stroke-width="0.3" >50</text>
<line x1="453.4" y1="479.7" x2="460.8" y2="479.7" stroke="#000" stroke-width="1.5" />
<text x="441" y="518" font-size="9.0" font-weight="bold" text-anchor="start" stroke="#000" stroke-width="0.3" >37</text>
<line x1="453.4" y1="514.7" x2="460.8" y2="514.7" stroke="#000" stroke-width="1.5" />
<text x="501.6" y="411.4" font-size="9.4" font-weight="bold" text-anchor="middle" stroke="#000" stroke-width="0.3" >Vehicle</text>
<text x="543" y="411.4" font-size="9.4" font-weight="bold" text-anchor="middle" stroke="#000" stroke-width="0.3" ><tspan font-style="italic">at</tspan>RA</text>
<text x="582.6" y="404.2" font-size="9.4" font-weight="bold" text-anchor="middle" stroke="#000" stroke-width="0.3" >Scram+</text>
<text x="583.3" y="415.8" font-size="9.4" font-weight="bold" text-anchor="middle" stroke="#000" stroke-width="0.3" >V</text>
<text x="624.5" y="403.7" font-size="9.4" font-weight="bold" text-anchor="middle" stroke="#000" stroke-width="0.3" >Scram+</text>
<text x="623.8" y="415.5" font-size="9.4" font-weight="bold" text-anchor="middle" stroke="#000" stroke-width="0.3" ><tspan font-style="italic">at</tspan>RA</text>
<text x="663" y="403.7" font-size="9.4" font-weight="bold" text-anchor="middle" stroke="#000" stroke-width="0.3" >RARβi+</text>
<text x="663" y="415.5" font-size="9.4" font-weight="bold" text-anchor="middle" stroke="#000" stroke-width="0.3" ><tspan font-style="italic">at</tspan>RA</text>
<text x="706" y="403.2" font-size="9.4" font-weight="bold" text-anchor="middle" stroke="#000" stroke-width="0.3" >PPARδi+</text>
<text x="706" y="415" font-size="9.4" font-weight="bold" text-anchor="middle" stroke="#000" stroke-width="0.3" ><tspan font-style="italic">at</tspan>RA</text>
<path d="M479.4 432.4 V427.2 Q479.4 425 481.6 425 H520.5 Q522.7 425 522.7 427.2 V432.4 M501.5 425 V418" fill="none" stroke="#000" stroke-width="1.7"/>
<path d="M522.7 432.4 V427.2 Q522.7 425 524.9 425 H559.2 Q561.4 425 561.4 427.2 V432.4 M542.2 425 V418" fill="none" stroke="#000" stroke-width="1.7"/>
<path d="M565.8 432.4 V427.2 Q565.8 425 568 425 H602.4 Q604.6 425 604.6 427.2 V432.4 M585.5 425 V418" fill="none" stroke="#000" stroke-width="1.7"/>
<path d="M609.6 432.4 V426.8 Q609.6 424.6 611.8 424.6 H635.8 Q638 424.6 638 426.8 V432.4 M623.9 424.6 V417.6" fill="none" stroke="#000" stroke-width="1.7"/>
<path d="M642.8 432.4 V426.8 Q642.8 424.6 645 424.6 H678 Q680.2 424.6 680.2 426.8 V432.4 M661.5 424.6 V417.6" fill="none" stroke="#000" stroke-width="1.7"/>
<path d="M684.7 432.4 V425.9 Q684.7 423.7 686.9 423.7 H721.9 Q724.1 423.7 724.1 425.9 V432.4 M704.8 423.7 V416.7" fill="none" stroke="#000" stroke-width="1.7"/>
<path d="M737.8 451 H729.4 M732.8 448 L729.2 451 L732.8 454" fill="none" stroke="#000" stroke-width="1.3"/>
<text x="739.4" y="454.7" font-size="10.5" font-weight="bold" text-anchor="start" stroke="#000" stroke-width="0.3" >SDHA</text>
<path d="M737.8 502.8 H729.4 M732.8 499.8 L729.2 502.8 L732.8 505.8" fill="none" stroke="#000" stroke-width="1.3"/>
<text x="739.4" y="506.5" font-size="10.5" font-weight="bold" text-anchor="start" stroke="#000" stroke-width="0.3" >β-Actin</text>
</g>
</svg></body></html>
